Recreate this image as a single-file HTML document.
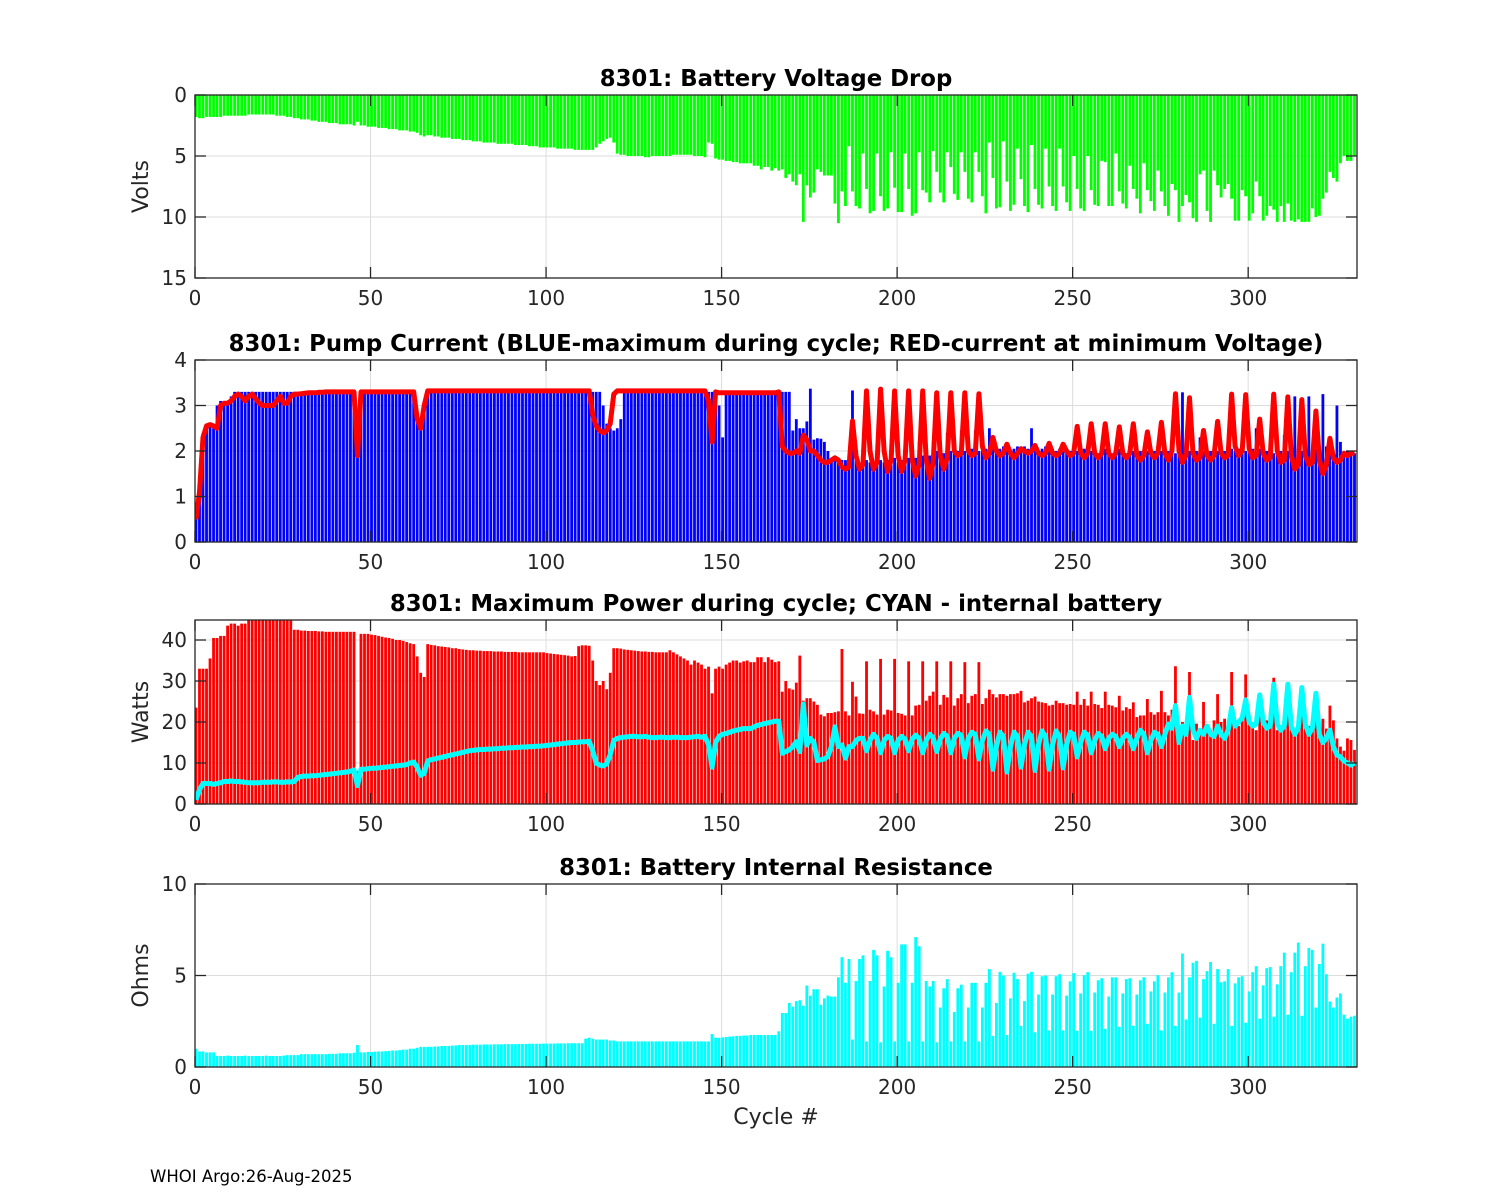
<!DOCTYPE html>
<html><head><meta charset="utf-8">
<style>
html,body{margin:0;padding:0;background:#fff;}
svg{display:block;font-family:"DejaVu Sans","Liberation Sans",sans-serif;}
</style></head>
<body>
<svg id="chart" width="1500" height="1200" viewBox="0 0 1500 1200" xmlns="http://www.w3.org/2000/svg">
<rect x="0" y="0" width="1500" height="1200" fill="#fff"/>
<defs></defs>
</svg>
<script>
// ---------- DATA ----------
const xTicks = [0,50,100,150,200,250,300];
const voltTicks = [0,5,10,15];
const currTicks = [0,1,2,3,4];
const powerTicks = [0,10,20,30,40];
const ohmTicks = [0,5,10];

const voltageDrop = [1.8,1.9,1.9,1.8,1.8,1.8,1.8,1.8,1.7,1.7,
1.7,1.7,1.7,1.7,1.7,1.6,1.6,1.6,1.6,1.6,
1.6,1.6,1.6,1.7,1.7,1.7,1.8,1.8,1.9,1.9,
2.0,2.0,2.0,2.1,2.1,2.2,2.2,2.2,2.3,2.3,
2.3,2.4,2.4,2.4,2.4,2.5,2.2,2.5,2.5,2.6,
2.6,2.6,2.7,2.7,2.7,2.8,2.8,2.8,2.9,2.9,
2.9,3.0,3.0,3.1,3.3,3.4,3.3,3.3,3.4,3.4,
3.5,3.5,3.5,3.6,3.6,3.6,3.7,3.7,3.7,3.8,
3.8,3.8,3.9,3.9,3.9,3.9,4.0,4.0,4.0,4.0,
4.0,4.1,4.1,4.1,4.1,4.2,4.2,4.2,4.3,4.3,
4.3,4.3,4.3,4.4,4.4,4.4,4.4,4.4,4.5,4.5,
4.5,4.5,4.5,4.5,4.3,4.0,3.8,3.6,3.5,3.9,
4.8,4.9,4.9,5.0,5.0,5.0,5.0,5.0,5.1,5.1,
5.0,5.0,5.0,5.0,5.0,5.0,4.9,4.9,4.9,4.9,
4.9,4.9,5.0,5.0,5.0,5.1,3.9,4.0,5.2,5.3,
5.3,5.4,5.4,5.5,5.5,5.6,5.6,5.6,
5.6,5.8,5.8,6.1,5.9,5.9,6.2,6.0,6.2,6.1,6.8,6.5,7.1,7.4,6.5,10.4,7.4,8.4,8.0,6.1,6.3,6.6,6.6,6.6,
8.9,10.5,7.9,9.1,4.2,7.9,9.1,9.3,4.8,7.7,9.7,9.5,4.8,8.3,9.5,9.3,4.7,
7.6,9.6,9.6,4.8,7.7,9.9,9.7,4.7,7.8,8.0,8.8,4.6,6.3,8.0,8.8,4.7,5.9,8.1,8.6,4.7,
6.3,8.5,8.8,4.7,6.3,8.3,9.7,3.9,6.8,9.3,9.2,3.8,7.1,9.5,9.0,4.4,6.9,9.1,9.6,4.1,
7.7,9.0,9.3,4.4,7.5,9.1,9.5,4.4,7.5,8.8,9.5,5.0,7.7,9.3,9.5,5.0,7.8,9.0,9.1,5.4,
5.5,9.1,9.1,4.8,7.9,8.9,9.3,5.8,7.7,8.5,9.7,5.6,7.8,8.7,9.5,6.2,7.9,9.1,9.9,7.3,
7.8,10.4,9.1,8.2,8.8,10.1,10.4,6.5,6.2,9.5,10.4,6.2,7.4,8.4,7.7,7.3,8.5,10.3,10.3,7.8,
8.3,10.3,9.7,7.1,8.3,10.3,9.9,9.1,9.4,10.4,9.1,10.4,8.9,10.3,10.4,10.2,10.4,10.4,10.4,9.3,
10.0,9.9,8.5,8.0,6.3,6.8,7.1,5.6,5.0,5.4,5.4,5.0];

const currentMax = [0.5,1.1,2.4,2.6,2.6,2.5,3.0,3.1,3.1,3.1,
3.2,3.3,3.3,3.3,3.3,3.3,3.3,3.3,3.3,3.3,
3.3,3.3,3.3,3.3,3.3,3.3,3.3,3.3,3.3,3.3,3.3,3.3,3.3,3.3,3.3,3.3,3.3,3.3,3.3,3.3,3.3,3.3,3.3,3.3,3.3,3.3,
2.0,
3.3,3.3,3.3,3.3,3.3,3.3,3.3,3.3,3.3,3.3,3.3,3.3,3.3,3.3,3.3,3.3,
2.8,2.6,3.0,
3.3,3.3,3.3,3.3,3.3,3.3,3.3,3.3,3.3,3.3,3.3,3.3,3.3,3.3,3.3,3.3,3.3,3.3,3.3,3.3,3.3,3.3,3.3,3.3,3.3,
3.3,3.3,3.3,3.3,3.3,3.3,3.3,3.3,3.3,3.3,3.3,3.3,3.3,3.3,3.3,3.3,3.3,3.3,3.3,3.3,3.3,3.3,3.3,3.3,3.3,
3.0,2.6,2.5,2.45,2.5,2.7,3.3,
3.3,3.3,3.3,3.3,3.3,3.3,3.3,3.3,3.3,3.3,3.3,3.3,3.3,3.3,3.3,3.3,3.3,3.3,3.3,3.3,3.3,3.3,3.3,3.3,3.3,3.3,
3.0,2.3,3.3,
3.3,3.3,3.3,3.3,3.3,3.3,3.3,3.3,3.3,3.3,3.3,3.3,3.3,3.3,3.3,3.3,3.3,3.3,
2.45,2.7,2.5,2.5,2.65,3.37,2.25,2.28,2.27,2.2,2.0,1.8,1.8,1.8,1.8,1.8,1.9,3.33,1.95,1.7,1.7,
1.8,1.75,1.7,
2.0,1.8,1.75,1.8, 2.2,1.85,1.75,1.8, 2.2,1.85,1.8,1.85, 2.2,1.9,1.8,1.9, 2.2,2.0,1.85,1.95,
2.4,2.0,2.05,2.0, 2.45,2.0,2.0,2.05, 2.45,2.0,2.0,2.05, 2.5,2.1,2.0,2.05, 2.1,2.1,2.0,2.05,
2.1,2.05,2.1,2.05, 2.5,2.05,2.0,2.05, 2.1,2.05,2.05,2.0, 2.05,2.0,2.05,2.0, 2.05,2.0,2.0,2.05,
2.0,2.0,1.95,1.95, 2.0,2.05,2.0,1.95, 2.0,2.05,2.0,1.95, 2.05,2.0,2.05,2.0, 2.0,2.0,2.05,2.0,
2.05,2.0,2.05,2.0, 2.0,1.95,2.05,3.29, 2.05,2.0,2.0,2.0, 2.3,2.0,2.0,2.0, 2.05,2.0,2.05,2.0,
2.1,2.05,2.0,2.05, 2.3,2.0,2.1,2.05, 2.5,2.05,2.05,2.0, 2.1,1.95,2.05,2.0, 2.35,2.0,1.95,3.2,
2.05,2.0,2.0,3.2, 2.0,2.05,1.95,3.25, 2.1,2.0,1.95,3.0, 2.2,1.95,2.0,1.95, 1.95,2.0,2.0,2.0];

const currentAtMinV = [0.5,1.1,2.3,2.55,2.58,2.55,2.5,3.0,3.05,3.05,
3.1,3.2,3.25,3.2,3.1,3.2,3.25,3.15,3.05,3.0,
3.0,3.0,3.0,3.1,3.2,3.05,3.05,3.2,3.25,3.25,
3.26,3.27,3.28,3.28,3.28,3.29,3.29,3.3,3.3,3.3,3.3,3.3,3.3,3.3,3.3,3.3,
1.9,
3.3,3.3,3.3,3.3,3.3,3.3,3.3,3.3,3.3,3.3,3.3,3.3,3.3,3.3,3.3,3.3,
2.7,2.5,3.0,
3.32,3.32,3.32,3.32,3.32,3.32,3.32,3.32,3.32,3.32,3.32,3.32,3.32,3.32,3.32,3.32,3.32,3.32,3.32,3.32,3.32,3.32,3.32,3.32,
3.32,3.32,3.32,3.32,3.32,3.32,3.32,3.32,3.32,3.32,3.32,3.32,3.32,3.32,3.32,3.32,3.32,3.32,3.32,3.32,3.32,3.32,3.32,
2.8,2.55,2.45,2.4,2.45,2.6,3.25,
3.32,3.32,3.32,3.32,3.32,3.32,3.32,3.32,3.32,3.32,3.32,3.32,3.32,3.32,3.32,3.32,3.32,3.32,3.32,3.32,3.32,3.32,3.32,3.32,3.32,3.32,
3.1,2.2,3.3,
3.28,3.28,3.28,3.28,3.28,3.28,3.28,3.28,3.28,3.28,3.28,3.28,3.28,3.28,3.28,3.28,3.28,
3.3,2.1,2.0,1.95,1.95,2.0,1.95,2.35,2.25,2.0,2.0,1.9,1.8,1.75,1.75,1.8,1.85,1.8,1.65,1.6,1.65,
2.66,1.9,1.6,1.7, 3.32,2.0,1.6,1.75, 3.36,2.0,1.55,1.8, 3.32,1.9,1.55,1.8, 3.32,1.8,1.45,1.7,
3.32,1.8,1.4,1.75, 3.28,1.9,1.6,1.85, 3.28,2.0,1.9,1.95, 3.28,2.0,1.9,1.95, 3.26,2.1,1.85,1.95,
2.3,2.0,1.9,1.95, 2.15,1.95,1.85,1.95, 2.05,2.0,1.95,2.0, 2.12,1.95,1.9,1.95, 2.17,1.95,1.9,1.95,
2.15,2.0,1.9,1.95, 2.54,1.95,1.85,1.95, 2.6,1.95,1.85,1.95, 2.6,1.95,1.85,1.95, 2.53,1.95,1.85,1.95,
2.6,1.9,1.8,1.9, 2.42,1.95,1.85,1.95, 2.63,1.95,1.8,2.0, 3.26,2.0,1.75,1.9, 3.17,1.95,1.8,1.85,
2.45,1.9,1.8,1.9, 2.65,1.95,1.85,1.9, 3.25,2.1,1.9,2.0, 3.24,2.05,1.85,1.9, 2.7,1.95,1.8,1.85,
3.25,2.0,1.75,1.8, 3.19,1.9,1.6,1.7, 3.13,1.9,1.7,1.75, 2.88,1.8,1.5,1.7, 2.28,1.85,1.75,1.8,
1.95,1.9,1.95,1.95];

const maxPower = [23.5,33,33,33,35.5,40.5,40.5,41,41,43.5,
44,44,43.5,44,44,45,45,45,45,45,45,45,45,45,45,45,45,45,
42.5,42.5,42.3,42.3,42.2,42.2,42.2,42.1,42.1,42,42,42,42,42,42,42,42,42,
8,
41.5,41.5,41.5,41.3,41.2,41,40.8,40.6,40.5,40.3,40,40,39.8,39.5,39.2,39,
36,32,31,
39,38.8,38.7,38.5,38.4,38.3,38.2,38,38,37.8,37.7,37.6,37.5,37.5,
37.4,37.4,37.3,37.3,37.3,37.2,37.2,37.2,37.1,37.1,37.1,37.1,37,37,37,37,37,37,37,37,
36.8,36.7,36.6,36.5,36.4,36.3,36.2,36,36.1,38.5,
38.7,38.7,38.6,
35,30,29,30,28,32,38,
38,37.9,37.7,37.6,37.5,37.4,37.3,37.2,37.2,37.1,37.1,37,37,37,37,37.5,37,36.5,36,35.5,
35,34,35,34.5,34,33,33.5,27,33,33.5,
33,34,34.5,35,35,34.5,34.8,35,
34.6,34.6,35.8,35.8,34.6,35.8,35.2,34.6,34.8,
27.4,30,28.2,27.9,29.6,36.2,25.2,25.8,25.8,25,24.2,21.8,21.4,22.2,22.2,22.4,22.6,37.8,22.6,21.6,
29.8,26.2,22.1,22,34.8,23,22.6,21.8,35.4,21.8,23,22.8,35.4,22.2,22,21.6,34.8,21.6,24,24.2,
34.8,25.2,26.4,27.4,34.8,24.2,26.6,26,34.8,24,25.8,26.8,34.6,24.6,26.4,26.8,34.6,24.4,25.8,27.9,
26.8,26,26.8,26.8,26.4,26.8,26.8,27,27.6,24.8,25.2,25.8,26.2,25,24.8,24.6,24,24.2,25.2,24.6,
24.6,24.2,24.4,24.2,27.4,24.2,25.6,24,27.4,24.4,24.2,23.4,27.4,24.2,24,23.6,26.4,22.8,23.6,23.2,
24.8,21.2,21.6,21.6,25.6,22.4,21.8,22.4,27.6,22.4,21.6,23,33.6,15.2,20,19.8,32.2,15.6,19.6,18,
24.9,19.2,18,20.4,26.8,20,20.8,18.8,32.2,20.2,19,21.2,31.6,20.2,19.6,18,26.4,20.2,20.4,22.4,
30.8,18,18.8,20,29.6,18.8,18.4,21.6,28.6,19.8,19,20.4,27.1,18,20.8,18.4,24,20.4,16,14,
13,16,15.6,13.2,13];

const internalPower = [1,3.5,5,5,5,4.8,5,5.2,5.5,5.5,
5.6,5.5,5.5,5.4,5.3,5.2,5.2,5.2,5.2,5.3,5.3,5.3,5.4,5.4,5.3,5.3,5.4,5.4,5.5,
6.5,6.7,6.8,6.8,6.9,6.9,7,7.1,7.2,7.3,7.4,7.5,7.6,7.7,7.8,8.0,
8.3,4.5,8.5,
8.5,8.6,8.7,8.7,8.8,8.9,9,9.1,9.2,9.3,9.4,9.5,9.6,
10,10.2,9,7,7.5,10.5,
10.8,11,11.2,11.4,11.6,11.8,12,12.2,12.4,12.6,12.8,13,13.1,
13.2,13.3,13.3,13.4,13.4,13.5,13.5,13.6,13.6,13.7,13.7,13.8,13.8,13.9,13.9,14,14,14.1,14.1,14.2,
14.3,14.4,14.5,14.6,14.7,14.8,14.9,15,15,15.1,15.2,15.2,15.3,
13,10,9.5,9.3,9.8,12,15.5,
16,16.2,16.3,16.4,16.5,16.5,16.4,16.4,16.5,16.3,16.2,16.2,16.3,16.3,16.2,16.2,16.3,16.3,16.2,16.2,16.2,16.3,16.4,16.5,16.3,16.5,
14.5,9,15,16.5,
17,17.2,17.5,17.8,18,18.2,18.4,18.4,
18.4,18.8,19.2,19.4,19.6,19.8,20,20.2,20.2,
12.4,12.8,13.2,14,15.2,12.8,24.4,14.4,16,15,10.6,10.8,11,11.6,14,18.8,14,14.4,11.2,14,
14,15.5,16,16, 13,15.5,17,16, 12.5,15.5,16.5,16, 12.5,15.5,16.5,15.8, 13,15.8,16.8,16,
12.5,15.5,17,16.2, 12.8,15.8,17.2,16.5, 12.5,16,17.2,16.8, 11.5,16,17.5,17, 11,15.5,17.8,17,
8.5,14,17.5,16.5, 7.8,14,17.5,16.5, 9,14.5,17.5,16.5, 8.2,14.5,17.8,16.5, 8.5,14.5,17.8,16.5,
8.8,14.5,17.5,17, 11.5,15,17.5,16.8, 12.5,15.5,17.2,16.5, 13.5,16,17,16.5, 14,16,17,16.2,
13.5,16,18,17, 12.5,15.5,17.5,17, 14,17,19.5,18.5, 24,15,19,17, 26,18,16,18,
17,19,17,16.5, 19,17,16,18, 23.5,19,20,21, 25.4,20,19,19.5, 26.6,20,18.5,19,
29.2,19.5,18,19, 29.2,19,17,18.5, 28.4,19.5,17,18.5, 27,17,15,16, 18,14,12,11.5,
10.5,10,9.5,10];

const resistance = [1.0,0.85,0.85,0.8,0.8,0.8,
0.6,0.6,0.6,0.62,0.6,0.6,0.6,0.6,0.62,0.6,0.6,0.6,0.6,0.6,0.62,0.6,0.6,0.6,0.6,0.62,
0.65,0.65,0.65,0.65,0.7,0.7,0.7,0.7,0.7,0.7,0.7,0.7,0.72,0.72,0.72,
0.75,0.75,0.75,0.75,0.78,1.2,
0.8,0.8,0.82,0.82,0.84,0.85,0.85,0.86,0.88,0.9,0.9,0.92,0.95,0.95,
1.0,1.0,1.05,1.1,1.1,
1.1,1.1,1.12,1.12,1.15,1.15,1.15,1.17,1.18,1.2,1.2,1.2,1.2,1.22,
1.22,1.22,1.23,1.23,1.23,1.24,1.24,1.24,1.25,1.25,1.25,1.25,1.26,1.26,1.26,1.27,1.27,1.27,1.27,1.28,1.28,1.28,1.28,1.29,1.29,1.29,1.3,1.3,1.3,1.3,1.3,
1.55,1.6,1.55,1.5,1.5,1.5,1.5,1.45,1.45,
1.4,1.4,1.4,1.4,1.4,1.4,1.4,1.4,1.4,1.4,1.4,1.4,1.4,1.4,1.4,1.4,1.4,1.4,1.4,1.4,1.4,1.4,1.4,1.4,1.4,1.4,1.4,
1.8,1.6,1.6,1.62,1.64,1.66,1.68,1.7,1.7,1.72,1.72,
1.75,1.75,1.75,1.75,1.75,1.75,1.75,1.75,1.95,
2.95,2.95,3.5,3.3,3.6,3.65,3.35,4.45,3.9,4.25,4.25,3.4,3.75,3.9,3.85,3.85,4.9,6.0,4.6,5.9,
1.5,4.7,5.9,6.1,1.4,4.7,6.4,6.1,1.35,4.4,6.35,6.0,1.4,4.6,6.7,6.7,1.4,4.6,7.1,6.6,
1.4,4.7,4.4,4.7,1.35,3.25,4.3,4.8,1.4,3.0,4.3,4.5,1.4,3.25,4.6,4.6,1.4,3.25,4.6,5.35,
1.7,3.5,5.2,5.0,1.75,3.75,5.15,4.8,2.25,3.6,5.1,5.2,1.9,3.96,4.96,5.0,2.0,3.96,4.96,5.07,
2.0,3.9,4.68,5.13,1.98,4.02,5.02,5.18,1.98,4.07,4.74,4.85,2.09,3.85,4.9,4.9,2.2,4.02,4.8,4.85,
2.25,3.96,4.74,4.9,2.36,4.13,4.68,5.02,2.0,4.07,4.9,5.18,2.25,4.07,6.2,2.6,4.9,5.7,5.8,2.7,
4.8,5.24,5.74,2.36,5.35,4.63,4.68,5.35,2.25,4.57,4.9,4.96,2.42,4.13,5.18,5.51,2.64,4.46,5.4,5.46,
2.75,4.52,5.51,6.25,2.86,5.18,6.25,6.8,2.8,5.51,6.5,6.4,3.25,5.63,6.74,5.07,3.58,3.25,3.8,4.02,
2.86,2.64,2.75,2.8,2.86];

// ---------- DRAWING ----------
const NS = "http://www.w3.org/2000/svg";
const svg = document.getElementById("chart");
const X0 = 195, X1 = 1357, XMAX = 331;
function xs(v){ return X0 + (v / XMAX) * (X1 - X0); }
function mk(tag, attrs, parent){
  const e = document.createElementNS(NS, tag);
  for (const k in attrs) e.setAttribute(k, attrs[k]);
  (parent || svg).appendChild(e);
  return e;
}
function txt(s, attrs, parent){ const t = mk("text", attrs, parent); t.textContent = s; return t; }

function makePanel(cfg){
  const g = mk("g", {});
  
  
  const top = cfg.top, bot = cfg.bottom;
  const ys = cfg.reversed
    ? (v => top + (v - cfg.min) / (cfg.max - cfg.min) * (bot - top))
    : (v => bot - (v - cfg.min) / (cfg.max - cfg.min) * (bot - top));
  const grid = mk("g", {stroke:"#dcdcdc", "stroke-width":"1"}, g);
  
  
  xTicks.forEach(t => { mk("line", {x1:xs(t), x2:xs(t), y1:top, y2:bot}, grid); });
  cfg.yTicks.forEach(t => { mk("line", {x1:X0, x2:X1, y1:ys(t), y2:ys(t)}, grid); });
  const cid = "clip-" + cfg.name;
  const cp = mk("clipPath", {id:cid}, g);
  mk("rect", {x:X0, y:top, width:X1-X0, height:bot-top}, cp);
  const plot = mk("g", {"clip-path":"url(#" + cid + ")"}, g);
  
  
  return {g, plot, ys, top, bot};
}

function drawBars(panel, values, color, name, fromTop){
  const bw = (X1 - X0) / XMAX * 0.8;
  const bg = mk("g", {fill: color}, panel.plot);
  
  
  values.forEach((v, i) => {
    const y0 = fromTop ? panel.top : panel.ys(0);
    const y1 = panel.ys(v);
    const r = mk("rect", {x: xs(i) - bw/2 + 1, y: Math.min(y0, y1), width: bw, height: Math.abs(y1 - y0)}, bg);
    
    
  });
}
function drawLine(panel, values, color, name){
  const pts = values.map((v, i) => (xs(i) + 1).toFixed(1) + "," + panel.ys(v).toFixed(1)).join(" ");
  const l = mk("polyline", {points: pts, fill:"none", stroke: color, "stroke-width":"5", "stroke-linejoin":"round"}, panel.plot);
  
  
}
function drawAxes(panel, cfg){
  const g = panel.g, top = panel.top, bot = panel.bot;
  const ax = mk("g", {stroke:"#262626", "stroke-width":"1.3", fill:"none"}, g);
  
  
  mk("rect", {x:X0, y:top, width:X1-X0, height:bot-top}, ax);
  xTicks.forEach(t => {
    mk("line", {x1:xs(t), x2:xs(t), y1:bot, y2:bot-11}, ax);
    mk("line", {x1:xs(t), x2:xs(t), y1:top, y2:top+11}, ax);
  });
  cfg.yTicks.forEach(t => {
    mk("line", {x1:X0, x2:X0+11, y1:panel.ys(t), y2:panel.ys(t)}, ax);
    mk("line", {x1:X1, x2:X1-11, y1:panel.ys(t), y2:panel.ys(t)}, ax);
  });
  const tl = mk("g", {fill:"#262626", "font-size":"20"}, g);
  
  
  xTicks.forEach(t => {
    const e = txt(String(t), {x:xs(t), y:bot + 27, "text-anchor":"middle"}, tl);
    
    
  });
  cfg.yTicks.forEach(t => {
    const e = txt(String(t), {x:X0 - 8, y:panel.ys(t) + 7, "text-anchor":"end"}, tl);
    
    
  });
  const title = txt(cfg.title, {x:(X0+X1)/2, y:top - 9, "text-anchor":"middle", "font-size":"22.8", "font-weight":"bold", fill:"#000"}, g);
  
  
  if (cfg.ylabel){
    const cy = (top + bot) / 2;
    const yl = txt(cfg.ylabel, {x:148, y:cy, "text-anchor":"middle", "font-size":"22", fill:"#262626", transform:"rotate(-90 148 " + cy + ")"}, g);
    
    
  }
}

const c1 = {name:"voltage-panel", top:95, bottom:278, min:0, max:15, reversed:true, yTicks:voltTicks, title:"8301: Battery Voltage Drop", ylabel:"Volts"};
const p1 = makePanel(c1);
drawBars(p1, voltageDrop, "#00ff00", "voltage-drop", true);
drawAxes(p1, c1);

const c2 = {name:"current-panel", top:360, bottom:542, min:0, max:4, yTicks:currTicks, title:"8301: Pump Current (BLUE-maximum during cycle; RED-current at minimum Voltage)"};
const p2 = makePanel(c2);
drawBars(p2, currentMax, "#0000ff", "max-current", false);
drawLine(p2, currentAtMinV, "#ff0000", "current-at-min-voltage");
drawAxes(p2, c2);

const c3 = {name:"power-panel", top:620, bottom:804, min:0, max:44.88, yTicks:powerTicks, title:"8301: Maximum Power during cycle; CYAN - internal battery", ylabel:"Watts"};
const p3 = makePanel(c3);
drawBars(p3, maxPower, "#ff0000", "max-power", false);
drawLine(p3, internalPower, "#00ffff", "internal-battery-power");
drawAxes(p3, c3);

const c4 = {name:"resistance-panel", top:884, bottom:1067, min:0, max:10, yTicks:ohmTicks, title:"8301: Battery Internal Resistance", ylabel:"Ohms"};
const p4 = makePanel(c4);
drawBars(p4, resistance, "#00ffff", "internal-resistance", false);
drawAxes(p4, c4);

const xl = txt("Cycle #", {x:(X0+X1)/2, y:1124, "text-anchor":"middle", "font-size":"22", fill:"#262626"});


const ft = txt("WHOI Argo:26-Aug-2025", {x:150, y:1182, "font-size":"16.5", fill:"#000"});


</script>
</body></html>
